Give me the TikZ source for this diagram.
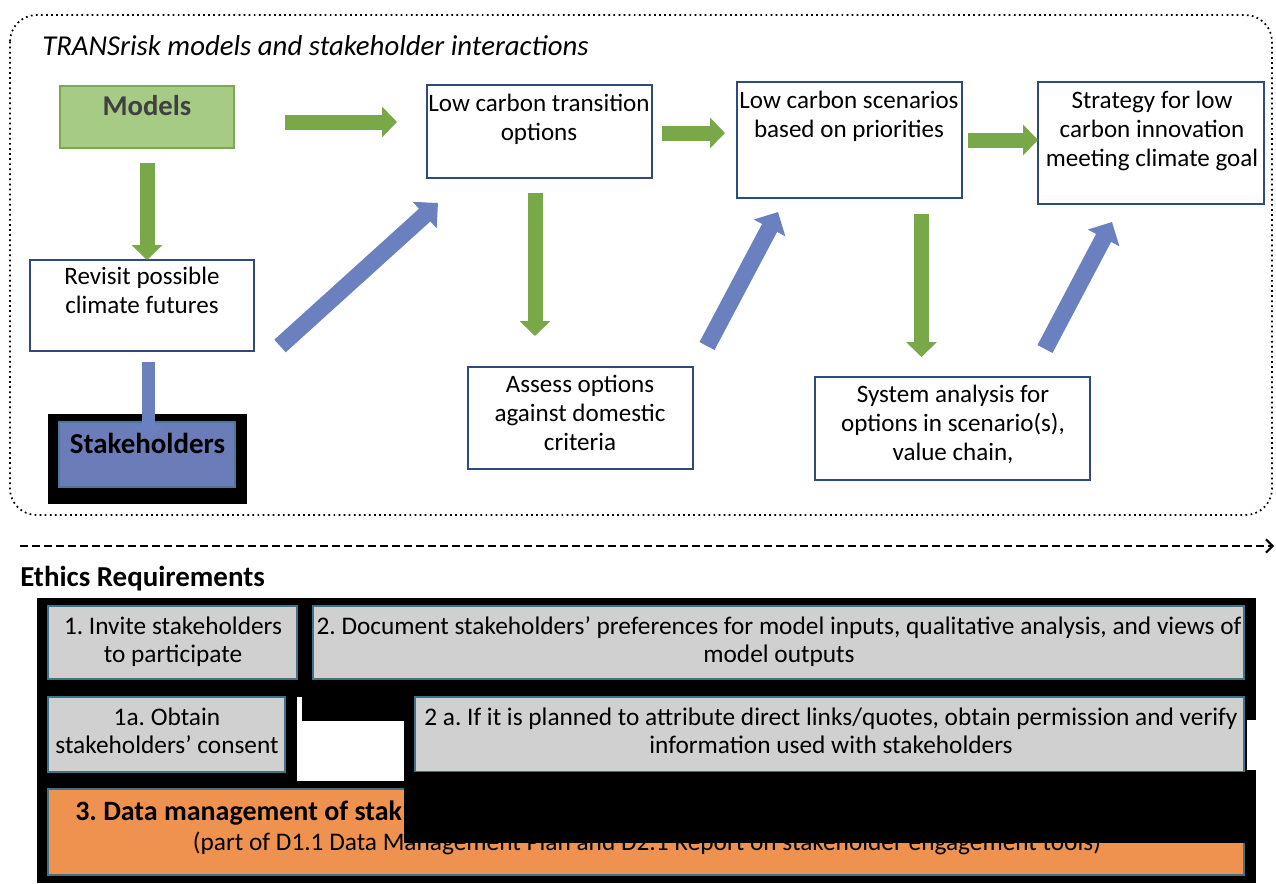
\documentclass[tikz,border=0pt]{standalone}
\usepackage{fontspec}
\setmainfont{Carlito}
\frenchspacing
\usetikzlibrary{arrows.meta,fit}
\definecolor{navy}{HTML}{2F4A7C}
\definecolor{arrgreen}{HTML}{78A847}
\definecolor{arrblue}{HTML}{6B80BF}
\definecolor{modgreen}{HTML}{A6CB85}
\definecolor{modborder}{HTML}{7CA854}
\definecolor{stakeblue}{HTML}{6A7DB8}
\definecolor{tealb}{HTML}{3F7486}
\definecolor{boxgray}{HTML}{D0D0D0}
\definecolor{orangeb}{HTML}{F0924F}
\definecolor{darktext}{HTML}{404040}
\begin{document}
\begin{tikzpicture}[x=0.75pt,y=-0.75pt,
  box/.style={draw=navy,line width=1.5pt,fill=white,inner sep=0pt},
  gbox/.style={draw=tealb,line width=1.3pt,fill=boxgray,inner sep=0pt},
  txt/.style={font=\fontsize{18.8}{21.5}\selectfont,align=center,inner sep=0pt,anchor=base},
  btxt/.style={font=\fontsize{19}{21}\selectfont,align=center,inner sep=0pt,anchor=base},
  garrow/.style={draw=arrgreen,line width=11.25pt,-{Triangle[width=22.5pt,length=11.25pt]}},
  barrow/.style={draw=arrblue,line width=12.75pt,-{Triangle[width=26pt,length=13.5pt]}},
]
\useasboundingbox (0,0) rectangle (1276,883);
\fill[white] (0,0) rectangle (1276,883);

% dotted frame
\draw[line width=1.3pt,dash pattern=on 1.3pt off 2.5pt,rounded corners=20pt] (10,15) rectangle (1272,515);
\node[anchor=base west,inner sep=0pt,font=\fontsize{21.6}{25}\selectfont\itshape] (title) at (42,55) {TRANSrisk models and stakeholder interactions};

% boxes
\node[draw=modborder,line width=1.5pt,fill=modgreen,inner sep=0pt,fit={(60,86) (234,148)}] (models) {};
\node[anchor=base,inner sep=0pt,font=\fontsize{21.5}{25}\selectfont\bfseries,text=darktext] (models-t) at (147,115) {Models};

\node[box,fit={(30,260) (254,351)}] (revisit) {};
\node[txt] (revisit-t) at (142,313) {Revisit possible\\climate futures};

\fill[black] (48,414) rectangle (247,504);
\node[draw=tealb!70!stakeblue,line width=1.5pt,fill=stakeblue,inner sep=0pt,fit={(59,422) (235,487)}] (stake) {};
\node[anchor=base,inner sep=0pt,font=\fontsize{21.7}{25}\selectfont\bfseries] (stake-t) at (147.5,453) {Stakeholders};

\node[box,fit={(427,85) (652,178)}] (lct) {};
\node[txt] (lct-t) at (539,140) {Low carbon transition\\options};

\node[box,fit={(468,367) (693,469)}] (assess) {};
\node[txt] (assess-t) at (580,450) {Assess options\\against domestic\\criteria};

\node[box,fit={(737,82) (962,198)}] (lcs) {};
\node[txt] (lcs-t) at (849,137) {Low carbon scenarios\\based on priorities};

\node[box,fit={(815,377) (1090,480)}] (sys) {};
\node[txt] (sys-t) at (953,460) {System analysis for\\options in scenario(s),\\value chain,};

\node[box,fit={(1038,82) (1264,204)}] (strat) {};
\node[txt] (strat-t) at (1152,166) {Strategy for low\\carbon innovation\\meeting climate goal};

% arrows
\coordinate (g1a) at (285,122); \coordinate (g1b) at (397,122);
\coordinate (g2a) at (147,163); \coordinate (g2b) at (147,260);
\coordinate (g3a) at (662,133); \coordinate (g3b) at (725,133);
\coordinate (g4a) at (535,193); \coordinate (g4b) at (535,336);
\coordinate (g5a) at (968,140); \coordinate (g5b) at (1038,140);
\coordinate (g6a) at (921.5,214); \coordinate (g6b) at (921.5,357);
\coordinate (b1a) at (280,346); \coordinate (b1b) at (438,203);
\coordinate (b2a) at (707,346); \coordinate (b2b) at (778,212);
\coordinate (b3a) at (1045,349); \coordinate (b3b) at (1112,222);
\coordinate (b0a) at (148.5,362); \coordinate (b0b) at (148.5,440);

\draw[garrow] (g1a) -- (g1b);
\draw[garrow] (g2a) -- (g2b);
\draw[garrow] (g3a) -- (g3b);
\draw[garrow] (g4a) -- (g4b);
\draw[garrow] (g5a) -- (g5b);
\draw[garrow] (g6a) -- (g6b);
\draw[barrow] (b1a) -- (b1b);
\draw[barrow] (b2a) -- (b2b);
\draw[barrow] (b3a) -- (b3b);
\draw[draw=arrblue,line width=10pt,-{Triangle[width=22.5pt,length=11pt]}] (b0a) -- (b0b);

% divider
\coordinate (da) at (20,546); \coordinate (db) at (1274,546);
\draw[line width=1.5pt,dash pattern=on 6pt off 3pt,-{Straight Barb[length=5pt,width=10pt]}] (da) -- (db);
\node[anchor=base west,inner sep=0pt,font=\fontsize{21.7}{25}\selectfont\bfseries] (ethics) at (20,586) {Ethics Requirements};

% ethics panel
\fill[black] (37,598) rectangle (1256,883);
\node[gbox,fit={(48,606) (297,679)}] (r1) {};
\node[btxt] (r1-t) at (173,662) {1. Invite stakeholders\\to participate};
\node[gbox,fit={(313,606) (1244,679)}] (r2) {};
\node[btxt] (r2-t) at (779,662) {2. Document stakeholders’ preferences for model inputs, qualitative analysis, and views of\\model outputs};
\node[gbox,fit={(48,697) (285,772)}] (r1a) {};
\node[btxt] (r1a-t) at (167,753) {1a. Obtain\\stakeholders’ consent};
\node[gbox,fit={(415,697) (1244,772)}] (r2a) {};
\node[btxt] (r2a-t) at (831,753) {2 a. If it is planned to attribute direct links/quotes, obtain permission and verify\\information used with stakeholders};
\node[gbox,fill=orangeb,fit={(48,789) (1244,875)}] (r3) {};
\node[anchor=base west,inner sep=0pt,font=\fontsize{21}{24}\selectfont\bfseries] (r3-t) at (75,820) {3. Data management of stak};
\node[btxt] (r3-s) at (647,850) {(part of D1.1 Data Management Plan and D2.1 Report on stakeholder engagement tools)};

\fill[white] (297,697) rectangle (302,721);
\fill[white] (297,721) rectangle (404,781);
\fill[black] (404,772) rectangle (1256,843);
\fill[white] (1247,720) rectangle (1256,770);
\end{tikzpicture}
\end{document}
